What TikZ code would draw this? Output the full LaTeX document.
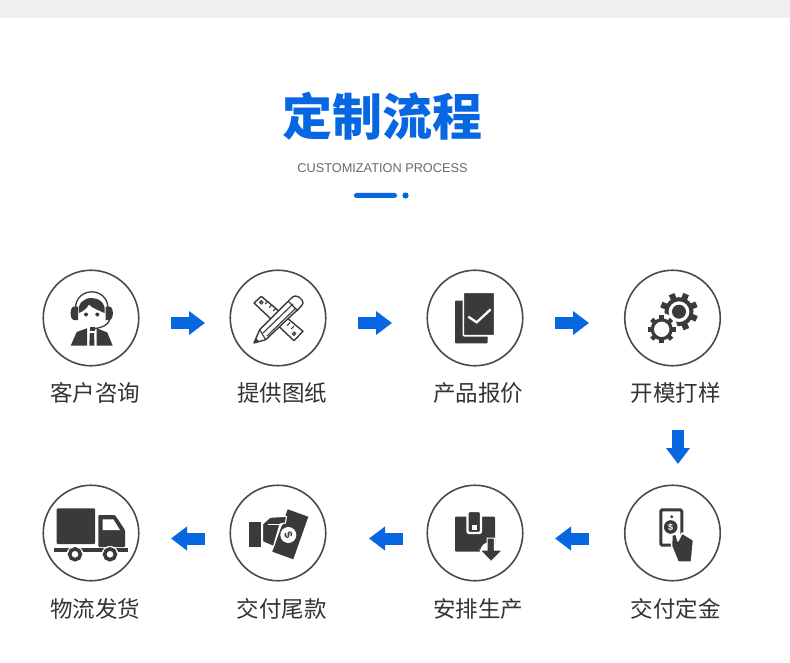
\documentclass[tikz,border=0pt]{standalone}
\usepackage{fontspec}
\setmainfont{Liberation Sans}
\newfontfamily\cjk{Noto Sans CJK SC}
\usetikzlibrary{arrows.meta}
\begin{document}
\begin{tikzpicture}[x=1pt,y=-1pt,
  stepcircle/.style={circle,draw=ring,line width=1.6pt,minimum size=95.5pt,inner sep=0pt},
  steplabel/.style={font=\cjk\fontsize{22.5}{23}\selectfont,text=labeltxt,inner sep=0pt},
  flowarrow/.style={draw=flow,line width=12pt,-{Triangle[length=16pt,width=23pt,fill=flow]}},
  iconcut/.style={draw=white,line width=1.6pt,fill=ink},
  iconthin/.style={draw=ink,line width=1.4pt,fill=white,line join=round}]
\definecolor{ink}{HTML}{3A3A3A}\definecolor{ring}{HTML}{4A4A4A}
\definecolor{labeltxt}{HTML}{333333}\definecolor{flow}{HTML}{0767E3}
\definecolor{subtxt}{HTML}{6A6A6A}\definecolor{band}{HTML}{EFEFEF}
\useasboundingbox (0,0) rectangle (790,663);
\fill[white] (0,0) rectangle (790,663);
\fill[band] (0,0) rectangle (790,18);
\node[font=\cjk\bfseries\fontsize{50}{50}\selectfont,text=flow,inner sep=0pt] (title) at (382.5,116) {定制流程};
\node[font=\fontsize{12.75}{13}\selectfont,text=subtxt,inner sep=0pt] (subtitle) at (382.5,168) {CUSTOMIZATION PROCESS};
\fill[flow,rounded corners=2.4pt] (354,193) rectangle (397,198);
\fill[flow] (405.5,195.5) circle (3.1);
\node[stepcircle] (zixun) at (91,318) {};
\node[stepcircle] (tuzhi) at (278,318) {};
\node[stepcircle] (baojia) at (475,318) {};
\node[stepcircle] (dayang) at (672.5,318) {};
\node[stepcircle] (dingjin) at (672.5,533) {};
\node[stepcircle] (shengchan) at (475,533) {};
\node[stepcircle] (weikuan) at (278,533) {};
\node[stepcircle] (fahuo) at (91,533) {};
\node[steplabel] (zixunt) at (95,393) {客户咨询};
\node[steplabel] (tuzhit) at (282,393) {提供图纸};
\node[steplabel] (baojiat) at (478,393) {产品报价};
\node[steplabel] (dayangt) at (675.5,393) {开模打样};
\node[steplabel] (dingjint) at (675.5,609) {交付定金};
\node[steplabel] (shengchant) at (478,609) {安排生产};
\node[steplabel] (weikuant) at (281.5,609) {交付尾款};
\node[steplabel] (fahuot) at (95,609) {物流发货};
\coordinate (ai) at (171,323); \coordinate (bi) at (205,323);
\coordinate (aii) at (358,323); \coordinate (bii) at (392,323);
\coordinate (aiii) at (555,323); \coordinate (biii) at (589,323);
\coordinate (aiv) at (678,430); \coordinate (biv) at (678,464);
\coordinate (av) at (589,538.5); \coordinate (bv) at (555,538.5);
\coordinate (avi) at (403,538.5); \coordinate (bvi) at (369,538.5);
\coordinate (avii) at (205,538.5); \coordinate (bvii) at (171,538.5);
\draw[flowarrow] (ai) -- (bi);
\draw[flowarrow] (aii) -- (bii);
\draw[flowarrow] (aiii) -- (biii);
\draw[flowarrow] (aiv) -- (biv);
\draw[flowarrow] (av) -- (bv);
\draw[flowarrow] (avi) -- (bvi);
\draw[flowarrow] (avii) -- (bvii);
% person
\fill[ink] (70.7,345.7) -- (76.7,332) -- (87,328.3) -- (87,345.7) -- cycle;
\fill[ink] (112.7,345.7) -- (107.3,332.5) -- (96.7,328.3) -- (96.7,345.7) -- cycle;
\fill[ink] (89.8,333) -- (94,333) -- (94.5,345.7) -- (89.3,345.7) -- cycle;
\fill[ink] (89.5,327) rectangle (94.5,331);
\draw[ink,line width=1.3pt] (75.5,308) .. controls (76,286.5) and (107.5,286.5) .. (108,308);
\fill[ink] (74,306.5) .. controls (69.5,307) and (69.5,319.5) .. (74,320) -- (78,320) -- (78,306.5) -- cycle;
\fill[ink] (109.5,306.5) .. controls (114,307) and (114,319.5) .. (109.5,320) -- (105.5,320) -- (105.5,306.5) -- cycle;
\fill[ink] (79,313) .. controls (75,293) and (108,293) .. (104.5,313) .. controls (99,310.5) and (92,308) .. (89,304.5) .. controls (87,308) and (83,311.5) .. (79,313) -- cycle;
\fill[ink] (86,314.5) circle (2) (97.3,314.5) circle (2);
\draw[ink,line width=1.3pt] (109.5,320) .. controls (108,325) and (102,328) .. (94,328.5);
% ruler and pencil
\draw[iconthin] (261.3,296.3) -- (303,331.3) -- (294,340.7) -- (254,303) -- cycle;
\draw[ink,line width=1.2pt] (261.3,302.3) circle (1.6) (294,333.7) circle (1.6);
\foreach \tx/\ty in {268/301,272/304.5,276/308,286/319,290/322.5,294/326}
  \draw[ink,line width=1pt] (\tx,\ty) -- ++(-2.8,3);
\draw[iconthin] (254,343) -- (259.7,329.7) -- (291.5,298) .. controls (294,295.5) and (297,295.5) .. (299,297) -- (302,300) .. controls (303.5,302) and (303.5,304) .. (301.5,306) -- (265.7,339.7) -- cycle;
\draw[ink,line width=1.1pt] (259.7,329.7) -- (265.7,339.7) (263,333) -- (293,304) (267,336) -- (296,308) (288,301) -- (298,311);
\fill[ink] (254,343) -- (255.5,338) -- (259,341) -- cycle;
% documents
\fill[ink,rounded corners=1pt] (455,300.7) rectangle (487.7,343.3);
\path[iconcut,rounded corners=1pt] (463.3,292.3) rectangle (494.7,335.7);
\draw[white,line width=2.3pt] (468.3,316.7) -- (476.7,322.3) -- (490.7,309.3);
% gears
\foreach \a in {0,45,...,315}
  \draw[ink,line width=6pt] (679,311.7) ++(\a+22:13) -- ++(\a+22:6);
\draw[ink,line width=4pt] (679,311.7) circle (12.5);
\fill[ink] (679,311.7) circle (7);
\fill[white] (661.7,329.3) circle (16);
\foreach \a in {0,45,...,315}
  \draw[ink,line width=4.5pt] (661.7,329.3) ++(\a:9) -- ++(\a:5);
\draw[ink,line width=3.2pt] (661.7,329.3) circle (9.4);
% banknote and hand
\draw[ink,line width=3pt,fill=white,rounded corners=1.5pt] (660.8,509.8) rectangle (681.8,545.2);
\fill[ink] (671.7,516.7) circle (1.6) (670.7,527) circle (6.8);
\node[text=white,font=\bfseries\fontsize{9}{9}\selectfont,inner sep=0pt] (dollari) at (670.7,527) {\$};
\path[fill=ink,draw=white,line width=1.5pt,line join=round] (672,535) -- (676,534) -- (678,541) -- (682,533) -- (693.5,540) -- (691.5,562) -- (678,562) -- (671.5,546) -- cycle;
% box
\fill[ink,rounded corners=1pt] (455,516.7) rectangle (495,551.7);
\path[draw=white,line width=2.4pt,fill=ink,rounded corners=2pt] (467.5,511) rectangle (481,533);
\fill[white] (472.3,524.5) rectangle (477,530);
\fill[white] (490,552) circle (10);
\path[fill=ink,draw=white,line width=1pt] (487,538) -- (494.3,538) -- (494.3,550) -- (502.5,550) -- (491,561.5) -- (480,550) -- (487,550) -- cycle;
% money in hand
\fill[ink] (287.7,509.3) -- (308.3,516.7) -- (293.3,559.3) -- (272.3,551.7) -- cycle;
\fill[white] (288.3,535) circle (8);
\node[text=ink,font=\bfseries\fontsize{11}{11}\selectfont,inner sep=0pt,rotate=-70] (dollarii) at (288.3,535) {\$};
\fill[ink] (249,521.7) rectangle (260.7,546.7);
\path[fill=ink,draw=white,line width=1.1pt,line join=round] (262.5,524) -- (270,517.3) -- (286.5,516.3) -- (285.5,523) -- (280,524) -- (273.5,546.5) -- (262.5,541.7) -- cycle;
\fill[white] (268,524.3) rectangle (283,525.4);
% truck
\fill[ink,rounded corners=1pt] (56.7,508.3) rectangle (95,544);
\fill[ink,rounded corners=1pt] (98.3,515) -- (115,515) -- (125,530) -- (125,547) -- (98.3,547) -- cycle;
\fill[white] (102.7,519.3) -- (113.3,519.3) -- (120,530) -- (102.7,530) -- cycle;
\fill[ink] (54,547.7) rectangle (128.3,552.3);
\fill[white] (75,554.3) circle (8.4) (110,554.3) circle (8.4);
\draw[ink,line width=3.6pt] (75,554.3) circle (5.4) (110,554.3) circle (5.4);
\end{tikzpicture}
\end{document}
